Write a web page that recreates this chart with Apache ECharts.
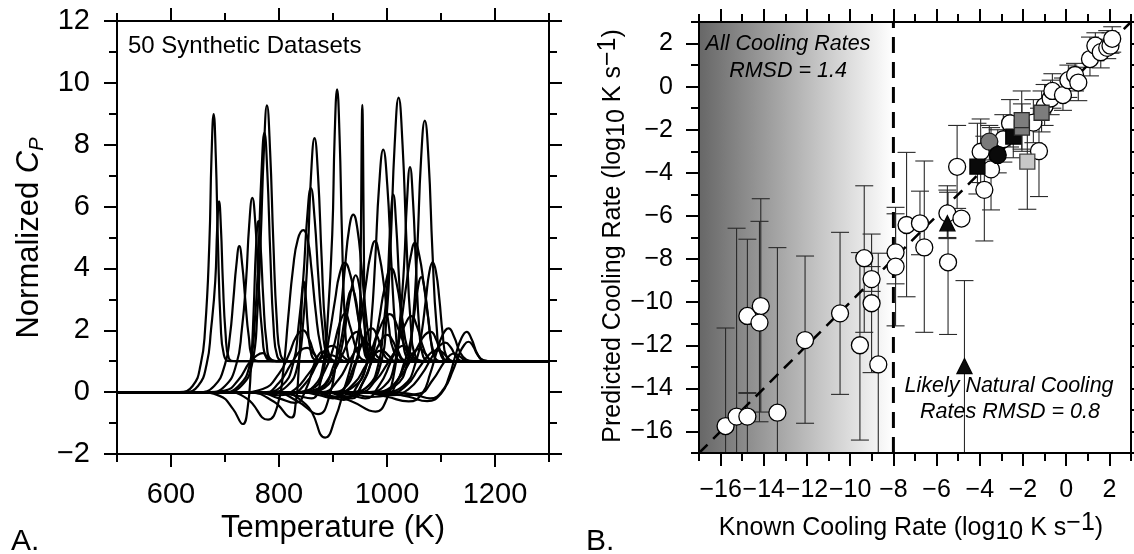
<!DOCTYPE html>
<html>
<head>
<meta charset="utf-8">
<script src="https://cdn.jsdelivr.net/npm/echarts@6.0.0/dist/echarts.min.js"></script>
<style>
html,body{margin:0;padding:0;background:#ffffff;}
#chart{width:1134px;height:554px;}
</style>
</head>
<body>
<div id="chart"></div>
<script>
// ---------------- DATA ----------------
// Panel A: tick values
const tempTicks = [600, 800, 1000, 1200];
const tempMinorTicks = [500, 700, 900, 1100, 1300];
const cpTicks = [-2, 0, 2, 4, 6, 8, 10, 12];
const cpMinorTicks = [-1, 1, 3, 5, 7, 9, 11];

// Panel A: 50 synthetic Cp curves, key points read from the picture as T,Cp pairs
// (every curve is 0 at 500 K and 1 at 1300 K)
const tallPeakCurves = [
  [615,0, 640,0.2, 655,0.9, 663,2.0, 671,4.8, 675,7.6, 679,8.99, 683,7.6, 687,4.8, 692,2.2, 698,1.2, 710,1.0],
  [700,0, 730,0.2, 750,0.9, 760,2.6, 766,4.9, 772,7.8, 777.7,9.27, 783.5,7.8, 789.4,4.9, 796,2.3, 803,1.2, 820,1.0],
  [695,0, 725,0.2, 746,0.9, 756,2.5, 762,4.5, 767.6,7.1, 773,8.38, 778.4,7.1, 783.8,4.5, 790,2.1, 797,1.15, 815,1.0],
  [780,0, 815,0.2, 835,0.9, 845,2.3, 853,4.4, 859.3,7.0, 865.8,8.21, 872.3,7.0, 878.8,4.4, 886,2.0, 894,1.15, 912,1.0],
  [835,0, 865,0.2, 882,0.9, 890,2.3, 898.6,5.1, 903.1,8.3, 907.6,9.79, 912.1,8.3, 916.6,5.1, 922,2.3, 928,1.15, 945,1.0],
  [895,0, 925,0.2, 942,0.9, 948,1.3, 951.6,4.9, 953,8.0, 954.3,9.29, 955.6,8.0, 957,4.9, 960,1.4, 965,1.05, 975,1.0],
  [900,0, 940,0.2, 962,0.9, 971,2.3, 978,4.2, 985.5,6.7, 993,7.84, 1000.5,6.7, 1008,4.2, 1016,2.0, 1025,1.15, 1045,1.0],
  [930,0, 965,0.2, 988,0.9, 999,2.4, 1007,4.9, 1014.2,8.0, 1021.5,9.52, 1028.8,8.0, 1036,4.9, 1044,2.2, 1053,1.15, 1072,1.0],
  [960,0, 995,0.2, 1014,0.9, 1023,2.1, 1031.6,4.1, 1037.1,6.2, 1042.6,7.28, 1048.1,6.2, 1053.6,4.1, 1060,2.0, 1067,1.15, 1085,1.0],
  [975,0, 1015,0.2, 1037,0.9, 1048,2.3, 1056,4.6, 1063,7.5, 1070,8.78, 1077,7.5, 1084,4.6, 1092,2.1, 1101,1.15, 1120,1.0]
];
const midPeakCurves = [
  [625,0, 650,0.2, 666,0.9, 674,2.0, 682,3.6, 685.5,5.3, 689,6.17, 692.5,5.3, 696,3.6, 701,1.9, 707,1.1, 720,1.0],
  [650,0, 680,0.2, 700,0.9, 709,1.8, 715.5,3.0, 721,4.1, 726.5,4.72, 732,4.1, 737.5,3.0, 744,1.8, 752,1.1, 768,1.0],
  [670,0, 700,0.2, 721,0.9, 731,2.0, 739,3.6, 744.8,5.4, 750.6,6.28, 756.4,5.4, 762,3.6, 769,1.9, 777,1.1, 795,1.0],
  [650,0, 690,-0.12, 715,-0.55, 733,-1.03, 742,-0.5, 748,0.8, 753,2.6, 757.5,4.7, 761.7,5.53, 766,4.7, 771,3.0, 777,1.6, 785,1.05, 800,1.0],
  [700,0, 740,-0.2, 779.7,-0.89, 797,-0.45, 808,0.7, 817,2.4, 826,4.0, 835,4.95, 845,5.24, 853,4.95, 860,4.0, 868,2.6, 877,1.5, 887,1.05, 905,1.0],
  [770,0, 805,0.2, 826,0.9, 836,2.1, 845,3.7, 852,5.6, 859,6.6, 866,5.6, 873,3.7, 881,2.0, 890,1.15, 905,1.0],
  [790,0, 830,-0.1, 860,-0.2, 878,0.4, 892,1.7, 904,3.0, 912,3.8, 922,4.18, 932,3.8, 941,3.0, 952,1.9, 963,1.2, 982,1.0],
  [790,0, 835,-0.3, 872.4,-0.71, 893,-0.15, 906,1.1, 915,2.7, 922,4.0, 930,5.3, 937.6,5.74, 945,5.3, 953,4.0, 961,2.5, 970,1.4, 980,1.05, 998,1.0],
  [790,0, 850,-0.4, 885.7,-1.47, 905,-0.8, 919,0, 934,0.9, 950,2.2, 961,3.5, 969,4.4, 977.8,4.88, 986,4.4, 994,3.5, 1003,2.2, 1013,1.3, 1030,1.0],
  [890,0, 930,-0.15, 955,0.3, 972,1.1, 985,2.3, 996,3.4, 1008,4.0, 1018,3.5, 1028,2.4, 1038,1.4, 1050,1.05, 1068,1.0],
  [930,0, 965,0.2, 984,0.9, 993,2.0, 1001,3.6, 1006.2,5.4, 1011.7,6.39, 1017,5.4, 1022.5,3.6, 1029,1.9, 1037,1.1, 1055,1.0],
  [880,0, 935,-0.3, 978.5,-0.63, 1000,-0.2, 1014,0.7, 1026,2.2, 1036,3.5, 1044,4.4, 1051.8,4.83, 1060,4.4, 1068,3.5, 1077,2.3, 1086,1.3, 1098,1.0],
  [990,0, 1030,0.2, 1054,1.0, 1064,1.9, 1072,3.0, 1078.6,3.9, 1084.6,4.2, 1090.6,3.9, 1097,3.0, 1103,1.9, 1110,1.15, 1127,1.0]
];
const lowPeakCurves = [
  [740,0, 790,-0.3, 822.7,-0.82, 831,-0.35, 836,0.6, 840,2.0, 843,3.1, 846,3.58, 849.5,3.1, 853,2.2, 858,1.4, 866,1.05, 880,1.0],
  [850,0, 885,0.15, 907,0.9, 918,1.6, 927,2.6, 936,3.5, 942,3.78, 948,3.5, 955,2.6, 962,1.7, 970,1.1, 985,1.0],
  [845,0, 880,0.15, 902,0.9, 913,1.5, 921,2.3, 929,3.1, 935,3.32, 941,3.1, 948,2.3, 956,1.5, 965,1.05, 980,1.0],
  [970,0, 1010,0.2, 1033,1.0, 1044,1.7, 1051,2.6, 1058,3.45, 1063.3,3.72, 1068.5,3.45, 1075,2.6, 1081,1.7, 1089,1.1, 1102,1.0],
  [860,0, 895,-0.15, 920,-0.25, 945,0.2, 965,1.0, 985,2.0, 1005,2.52, 1022,2.0, 1037,1.3, 1050,1.0],
  [820,0, 860,0.1, 885,0.7, 900,1.4, 912,2.2, 922,2.54, 932,2.1, 943,1.4, 955,1.05, 970,1.0],
  [900,0, 935,-0.1, 960,-0.2, 985,0.2, 1005,0.9, 1022,1.7, 1034,2.2, 1044.7,2.46, 1056,2.1, 1068,1.4, 1080,1.05, 1095,1.0]
];
const smallPeakCurves = [
  [730,0, 770,0.1, 800,0.6, 818,1.2, 832,1.8, 844.6,2.0, 856,1.7, 867,1.2, 880,1.0],
  [950,0, 1000,-0.15, 1040,-0.3, 1065,-0.05, 1080,0.6, 1092,1.3, 1103,1.85, 1114,2.06, 1124,1.8, 1135,1.3, 1147,1.05, 1160,1.0],
  [990,0, 1040,-0.15, 1074.5,-0.29, 1100,-0.05, 1115,0.5, 1127,1.2, 1138,1.75, 1147.5,1.95, 1157,1.7, 1167,1.25, 1178,1.03, 1195,1.0],
  [1010,0, 1055,-0.1, 1080,-0.2, 1105,0.1, 1122,0.7, 1133,1.2, 1142,1.5, 1150.8,1.63, 1159,1.5, 1168,1.2, 1180,1.02, 1195,1.0],
  [960,0, 1010,-0.1, 1040,0.1, 1065,0.6, 1082,1.1, 1095,1.45, 1107.7,1.6, 1118,1.45, 1128,1.15, 1140,1.0],
  [840,0, 875,-0.1, 900,-0.2, 920,0.1, 938,0.8, 952,1.5, 962,1.9, 971.8,2.06, 981,1.85, 991,1.35, 1002,1.05, 1015,1.0],
  [830,0, 870,0.1, 898,0.6, 917,1.2, 932,1.75, 945,1.95, 956,1.7, 967,1.2, 980,1.0],
  [950,0, 990,0.0, 1020,0.4, 1043,1.0, 1058,1.5, 1070,1.85, 1081,1.95, 1091,1.7, 1101,1.25, 1113,1.0],
  [760,0, 800,-0.1, 830,0.1, 855,0.6, 875,1.05, 895.6,1.2, 910,1.1, 925,1.0],
  [740,0, 770,-0.05, 800,0.3, 822,0.9, 840,1.35, 852.5,1.43, 864,1.25, 878,1.0],
  [670,0, 700,0.05, 725,0.4, 745,0.95, 760,1.2, 769.7,1.26, 780,1.12, 795,1.0],
  [780,0, 820,-0.05, 850,0.3, 870,0.9, 887,1.4, 900,1.5, 912,1.3, 926,1.05, 940,1.0],
  [840,0, 880,0.0, 910,0.4, 930,1.0, 947,1.45, 960,1.6, 972,1.4, 985,1.1, 1000,1.0],
  [860,0, 905,-0.15, 935,-0.2, 955,0.3, 972,1.0, 987,1.6, 1000,1.85, 1011,1.65, 1022,1.2, 1035,1.0],
  [900,0, 950,0.0, 980,0.4, 1000,0.9, 1017,1.35, 1030,1.5, 1042,1.3, 1055,1.05, 1070,1.0],
  [920,0, 970,-0.15, 1000,-0.1, 1020,0.4, 1037,1.0, 1050,1.3, 1060,1.4, 1071,1.25, 1085,1.0],
  [950,0, 1000,-0.05, 1035,0.2, 1060,0.8, 1080,1.25, 1095,1.35, 1108,1.2, 1122,1.0],
  [980,0, 1030,-0.1, 1060,-0.05, 1085,0.4, 1105,0.95, 1117,1.2, 1125,1.25, 1135,1.15, 1150,1.0],
  [760,0, 800,-0.2, 830,-0.35, 850,0.1, 865,0.9, 873,1.2, 880,1.3, 889,1.15, 902,1.0],
  [870,0, 910,0.0, 940,0.3, 962,0.9, 978,1.25, 990,1.35, 1002,1.2, 1016,1.0]
];
const curveStart = [500, 0];
const curveEnd = [1300, 1];

// Panel B: tick values
const rateTicks = [-16, -14, -12, -10, -8, -6, -4, -2, 0, 2];
const rateMinorTicks = [-17, -15, -13, -11, -9, -7, -5, -3, -1, 1, 3];
const rateRange = [-17, 3];
const naturalLimit = -8;
const shadeRange = [-17, -8];

// Panel B points: [known, predicted, predicted low, predicted high]
const openCircles = [
  [-15.77,-15.75,-17.5,-11.2], [-15.26,-15.31,-17.5,-6.57], [-14.76,-15.31,-17.5,-14.2],
  [-14.76,-10.64,-14.23,-7.08], [-14.14,-10.18,-15.1,-5.2], [-14.2,-10.95,-15.55,-6.25],
  [-13.37,-15.13,-17.5,-7.47], [-12.09,-11.76,-15.62,-7.86], [-10.47,-10.52,-14.28,-6.76],
  [-9.55,-12.0,-16.4,-7.7], [-9.35,-7.96,-11.4,-4.6], [-9.01,-8.93,-9.5,-6.84],
  [-9.01,-10.05,-13.27,-8.35], [-8.70,-12.89,-17.5,-7.73], [-7.9,-7.69,-9.15,-5.6],
  [-7.9,-8.35,-11.1,-5.9], [-7.39,-6.42,-9.75,-3.05], [-6.77,-6.34,-7.8,-4.85],
  [-6.57,-7.46,-11.4,-3.45], [-5.5,-5.88,-7.05,-4.6], [-5.47,-8.15,-11.5,-4.9],
  [-5.05,-3.72,-5.65,-1.8], [-4.85,-6.12,-6.12,-6.12], [-3.96,-3.02,-4.45,-1.5],
  [-3.48,-3.84,-5.72,-1.9], [-3.79,-4.79,-7.16,-2.3], [-2.91,-2.44,-3.5,-1.3],
  [-2.6,-1.7,-2.8,-0.6], [-1.52,-1.67,-2.6,-0.6], [-1.26,-2.99,-5.1,-1.0],
  [-1.0,-0.9,-1.8,0.1], [-0.72,-0.55,-1.3,0.3], [-0.64,-0.2,-1.0,0.6],
  [-0.15,-0.39,-1.1,0.4], [0.1,0.3,-0.5,1.0], [0.41,0.54,-0.2,1.08],
  [0.56,0.19,-0.65,0.9], [1.1,1.28,0.5,2.3], [1.35,1.9,1.2,2.5],
  [1.6,1.6,0.87,2.2], [1.9,1.8,1.3,2.6], [2.05,1.9,1.55,2.5], [2.13,2.22,1.6,2.78]
];
const blackSquares = [[-4.11,-3.71,-4.98,-1.7], [-2.45,-2.32,-3.3,-1.4]];
const graySquares = [[-2.05,-1.9,-3.0,-0.8], [-2.06,-1.55,-2.9,-0.2], [-1.14,-1.21,-2.1,-0.2]];
const lightGraySquares = [[-1.8,-3.48,-5.69,-1.3]];
const blackCircles = [[-3.17,-3.17,-4.0,-2.0]];
const grayCircles = [[-3.56,-2.55,-3.4,-1.8]];
const triangles = [[-5.5,-6.34,-7.0,-4.8], [-4.71,-12.97,-17.5,-9.0]];

// ---------------- CHART ----------------
const FONT = "'Liberation Sans', Arial, Helvetica, sans-serif";
const minusFmt = v => (v < 0 ? '\u2212' + Math.abs(v) : String(v));

function axisSet(dim, gridIndex, min, max, major, minor, lab) {
  const pos = dim === 'x' ? ['bottom', 'top'] : ['left', 'right'];
  const out = [];
  pos.forEach((p, i) => {
    out.push({
      gridIndex, type: 'value', position: p, min, max, z: 10,
      axisLine: {show: true, onZero: false, lineStyle: {color: '#000', width: 2}},
      axisTick: {show: true, inside: false, length: 13, customValues: major, lineStyle: {color: '#000', width: 2}},
      axisLabel: {show: i === 0, customValues: major, formatter: minusFmt, fontSize: lab.size,
                  color: '#000', fontFamily: FONT, margin: lab.margin},
      splitLine: {show: false}
    });
    out.push({
      gridIndex, type: 'value', position: p, min, max, z: 10,
      axisLine: {show: false, onZero: false},
      axisTick: {show: true, inside: false, length: 8, customValues: minor, lineStyle: {color: '#000', width: 2}},
      axisLabel: {show: false},
      splitLine: {show: false}
    });
  });
  return out;
}

const xAxes = [].concat(
  axisSet('x', 0, 500, 1300, tempTicks, tempMinorTicks, {size: 29, margin: 26}),
  axisSet('x', 1, rateRange[0], rateRange[1], rateTicks, rateMinorTicks, {size: 25, margin: 25})
);
const yAxes = [].concat(
  axisSet('y', 0, -2, 12, cpTicks, cpMinorTicks, {size: 29, margin: 27}),
  axisSet('y', 1, rateRange[0], rateRange[1], rateTicks, rateMinorTicks, {size: 25, margin: 26})
);

const allCurves = [].concat(tallPeakCurves, midPeakCurves, lowPeakCurves, smallPeakCurves);
const curveSeries = allCurves.map(flat => {
  const pts = [curveStart];
  for (let i = 0; i < flat.length; i += 2) pts.push([flat[i], flat[i + 1]]);
  pts.push(curveEnd);
  return {
    type: 'line', xAxisIndex: 0, yAxisIndex: 0, data: pts, smooth: 0.5,
    showSymbol: false, symbol: 'none', silent: true, z: 3,
    lineStyle: {color: '#000', width: 2.2}
  };
});

const errorData = [].concat(openCircles, blackSquares, graySquares, lightGraySquares,
                            blackCircles, grayCircles, triangles);

function renderErr(params, api) {
  const x = api.value(0), lo = api.value(2), hi = api.value(3);
  if (lo === hi) return {type: 'group', children: []};
  const a = api.coord([x, lo]), b = api.coord([x, hi]);
  const cap = 9;
  const st = {stroke: '#2a2a2a', lineWidth: 1.1};
  return {type: 'group', children: [
    {type: 'line', shape: {x1: a[0], y1: a[1], x2: b[0], y2: b[1]}, style: st},
    {type: 'line', shape: {x1: a[0] - cap, y1: a[1], x2: a[0] + cap, y2: a[1]}, style: st},
    {type: 'line', shape: {x1: b[0] - cap, y1: b[1], x2: b[0] + cap, y2: b[1]}, style: st}
  ]};
}

function scatter(group, symbol, size, color, border, z) {
  return {
    type: 'scatter', xAxisIndex: 4, yAxisIndex: 4, symbol, symbolSize: size, z, silent: true,
    data: group.map(d => [d[0], d[1]]),
    itemStyle: {color, borderColor: border, borderWidth: 1.3, opacity: 1}
  };
}

const rightSeries = [
  {
    type: 'custom', xAxisIndex: 4, yAxisIndex: 4, silent: true, z: 1,
    data: [[shadeRange[0], rateRange[1], shadeRange[1], rateRange[0]]],
    encode: {x: [0, 2], y: [1, 3]},
    renderItem: (params, api) => {
      const p0 = api.coord([api.value(0), api.value(1)]);
      const p1 = api.coord([api.value(2), api.value(3)]);
      return {type: 'rect', shape: {x: p0[0], y: p0[1], width: p1[0] - p0[0], height: p1[1] - p0[1]},
        style: {fill: new echarts.graphic.LinearGradient(0, 0, 1, 0, [
          {offset: 0, color: '#676767'}, {offset: 1, color: '#ffffff'}])}};
    }
  },
  {
    type: 'custom', xAxisIndex: 4, yAxisIndex: 4, silent: true, z: 2, clip: true,
    data: errorData, encode: {x: 0, y: 1}, renderItem: renderErr
  },
  {
    type: 'line', xAxisIndex: 4, yAxisIndex: 4, silent: true, z: 3, symbol: 'none',
    data: [[rateRange[0], rateRange[0]], [rateRange[1], rateRange[1]]],
    lineStyle: {color: '#000', width: 2.5, type: [12, 8]}
  },
  {
    type: 'line', xAxisIndex: 4, yAxisIndex: 4, silent: true, z: 3, symbol: 'none',
    data: [[naturalLimit, rateRange[0]], [naturalLimit, rateRange[1]]],
    lineStyle: {color: '#000', width: 3, type: [16, 9]}
  },
  scatter(openCircles, 'circle', 17, '#ffffff', '#000', 4),
  scatter(grayCircles, 'circle', 17, '#7a7a7a', '#1a1a1a', 5),
  scatter(blackCircles, 'circle', 17, '#0a0a0a', '#000', 5),
  scatter(blackSquares, 'rect', 15, '#0a0a0a', '#000', 5),
  scatter(graySquares, 'rect', 15, '#7d7d7d', '#2a2a2a', 5),
  scatter(lightGraySquares, 'rect', 15, '#c8c8c8', '#444', 5),
  scatter(triangles, 'triangle', 15, '#0a0a0a', '#000', 5)
];

function txt(x, y, text, size, opts) {
  return Object.assign({
    type: 'text', x, y, z: 100, silent: true,
    style: Object.assign({text, fontSize: size, fontFamily: FONT, fill: '#000',
      align: 'center', verticalAlign: 'middle'}, (opts && opts.style) || {})
  }, (opts && opts.el) || {});
}

function richStyle(size, subSize, mainLH, subLH, supLH, italicMain) {
  return {
    n: {fontSize: size, lineHeight: mainLH, fontFamily: FONT, fill: '#000', verticalAlign: 'middle'},
    c: {fontSize: size, lineHeight: mainLH, fontFamily: FONT, fill: '#000', fontStyle: 'italic', verticalAlign: 'middle'},
    s: {fontSize: subSize, lineHeight: subLH, fontFamily: FONT, fill: '#000', verticalAlign: 'bottom', fontStyle: italicMain ? 'italic' : 'normal'},
    p: {fontSize: subSize, lineHeight: supLH, fontFamily: FONT, fill: '#000', verticalAlign: 'top'}
  };
}

const graphics = [
  txt(128, 46, '50 Synthetic Datasets', 24, {style: {align: 'left'}}),
  txt(333, 528, 'Temperature (K)', 31),
  {type: 'text', x: 29, y: 238, rotation: Math.PI / 2, z: 100, silent: true,
   style: {text: '{n|Normalized }{c|C}{s|P}', rich: richStyle(31, 20, 36, 16, 16, true),
           align: 'center', verticalAlign: 'middle', fill: '#000'}},
  {type: 'text', x: 911, y: 528, z: 100, silent: true,
   style: {text: '{n|Known Cooling Rate (log}{s|10}{n| K s}{p|\u22121}{n|)}', rich: richStyle(25, 25, 34, 16, 18, false),
           align: 'center', verticalAlign: 'middle', fill: '#000'}},
  {type: 'text', x: 613, y: 236, rotation: Math.PI / 2, z: 100, silent: true,
   style: {text: '{n|Predicted Cooling Rate (log}{s|10}{n| K s}{p|\u22121}{n|)}', rich: richStyle(25, 25, 34, 16, 18, false),
           align: 'center', verticalAlign: 'middle', fill: '#000'}},
  txt(788, 44, 'All Cooling Rates', 21.5, {style: {fontStyle: 'italic'}}),
  txt(788, 71, 'RMSD = 1.4', 21.5, {style: {fontStyle: 'italic'}}),
  txt(1009, 386, 'Likely Natural Cooling', 21.5, {style: {fontStyle: 'italic'}}),
  txt(1010, 412, 'Rates RMSD = 0.8', 21.5, {style: {fontStyle: 'italic'}}),
  txt(11, 542, 'A.', 30, {style: {align: 'left'}}),
  txt(586, 542, 'B.', 30, {style: {align: 'left'}})
];

const chart = echarts.init(document.getElementById('chart'), null, {renderer: 'canvas'});
chart.setOption({
  animation: false,
  backgroundColor: '#ffffff',
  grid: [
    {left: 117, top: 21, width: 432, height: 433},
    {left: 699, top: 22, width: 432, height: 431}
  ],
  xAxis: xAxes,
  yAxis: yAxes,
  series: curveSeries.concat(rightSeries),
  graphic: graphics
});
</script>
</body>
</html>
